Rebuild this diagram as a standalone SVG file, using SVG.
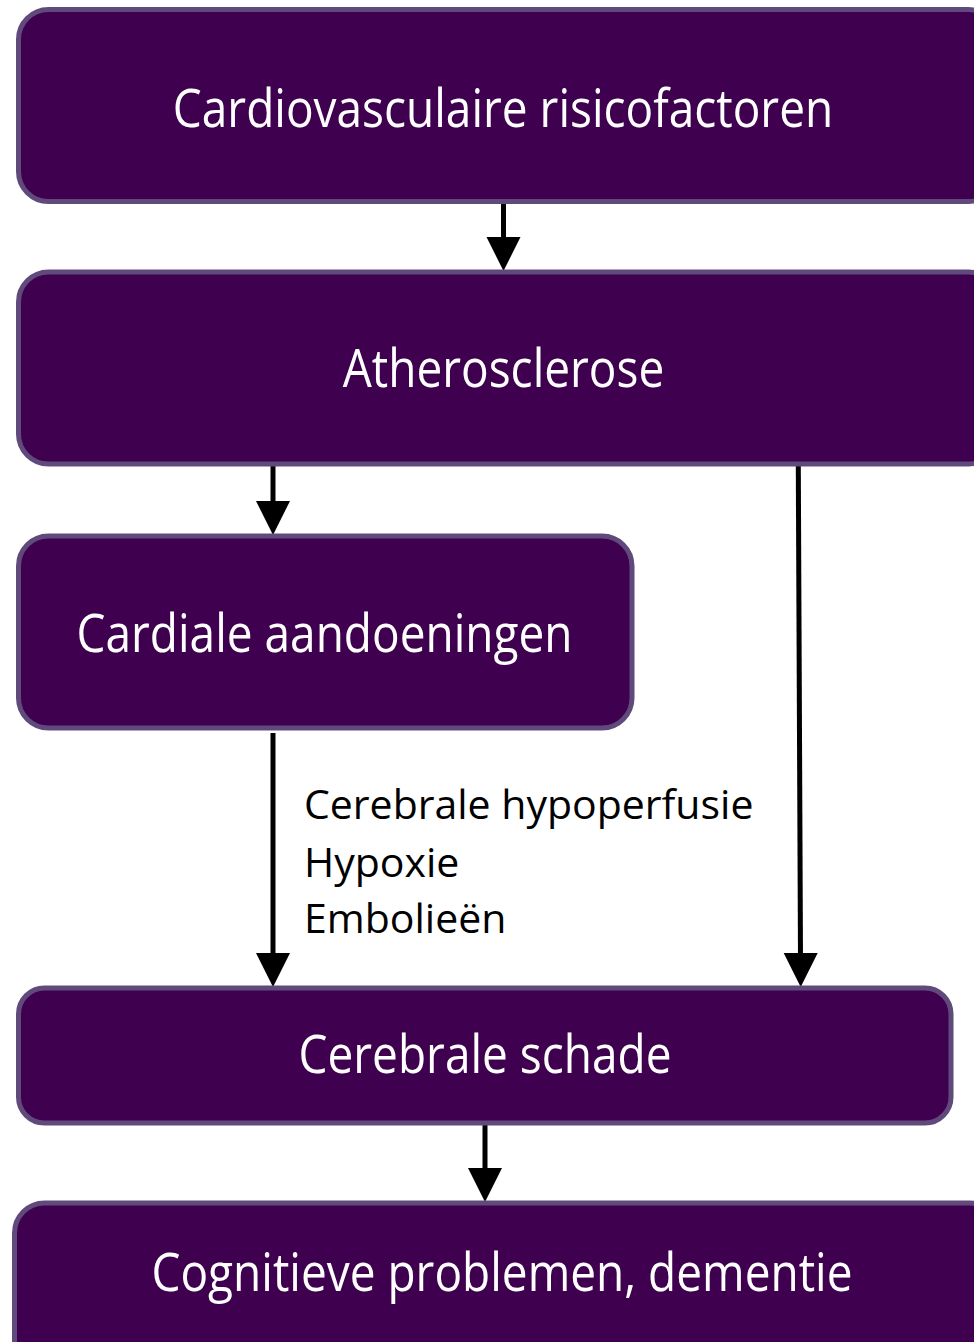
<svg xmlns="http://www.w3.org/2000/svg" width="974" height="1342" viewBox="0 0 974 1342">
  <style>
    .box { fill: #3f0050; stroke: #604a7b; stroke-width: 5; }
    .bt { font-family: "Open Sans", "Noto Sans", sans-serif; font-size: 46px; fill: #ffffff; text-anchor: middle; }
    .lt { font-family: "Open Sans", "Noto Sans", sans-serif; font-size: 41px; fill: #000000; }
    .conn { stroke: #000000; stroke-width: 5; fill: none; }
    .head { fill: #000000; }
  </style>
  <rect width="974" height="1342" fill="#ffffff"/>

  <g id="connectors">
    <line class="conn" x1="503.5" y1="203" x2="503.5" y2="244" />
    <path class="head" d="M486.5,237 L520.5,237 L503.5,271 Z"/>
    <line class="conn" x1="273" y1="464" x2="273" y2="508" />
    <path class="head" d="M256,501 L290,501 L273,535 Z"/>
    <line class="conn" x1="798.3" y1="465" x2="800.5" y2="960" />
    <path class="head" d="M783.7,953 L817.7,953 L800.7,987 Z"/>
    <line class="conn" x1="273" y1="733" x2="273" y2="960" />
    <path class="head" d="M256,953 L290,953 L273,987 Z"/>
    <line class="conn" x1="485" y1="1124" x2="485" y2="1175" />
    <path class="head" d="M468,1168 L502,1168 L485,1202 Z"/>
  </g>

  <g id="node-risicofactoren">
    <rect class="box" x="18.5" y="9.5" width="980" height="192" rx="30"/>
    <text class="bt" transform="translate(503,127) scale(1,1.15)">Cardiovasculaire risicofactoren</text>
  </g>
  <g id="node-atherosclerose">
    <rect class="box" x="18.5" y="272" width="980" height="192" rx="30"/>
    <text class="bt" transform="translate(503.5,387) scale(1,1.15)">Atherosclerose</text>
  </g>
  <g id="node-cardiale">
    <rect class="box" x="18.5" y="536" width="613.5" height="192" rx="30"/>
    <text class="bt" transform="translate(324.5,652) scale(1,1.15)">Cardiale aandoeningen</text>
  </g>
  <g id="node-cerebrale-schade">
    <rect class="box" x="18.5" y="988" width="932.5" height="135" rx="26"/>
    <text class="bt" transform="translate(485,1073) scale(1,1.15)">Cerebrale schade</text>
  </g>
  <g id="node-cognitieve">
    <rect class="box" x="14.5" y="1203" width="985" height="170" rx="30"/>
    <text class="bt" transform="translate(502,1291) scale(1,1.15)">Cognitieve problemen, dementie</text>
  </g>

  <g id="label-mechanismen">
    <text class="lt" x="304" y="819">Cerebrale hypoperfusie</text>
    <text class="lt" x="304" y="877">Hypoxie</text>
    <text class="lt" x="304" y="933">Embolieën</text>
  </g>
</svg>
